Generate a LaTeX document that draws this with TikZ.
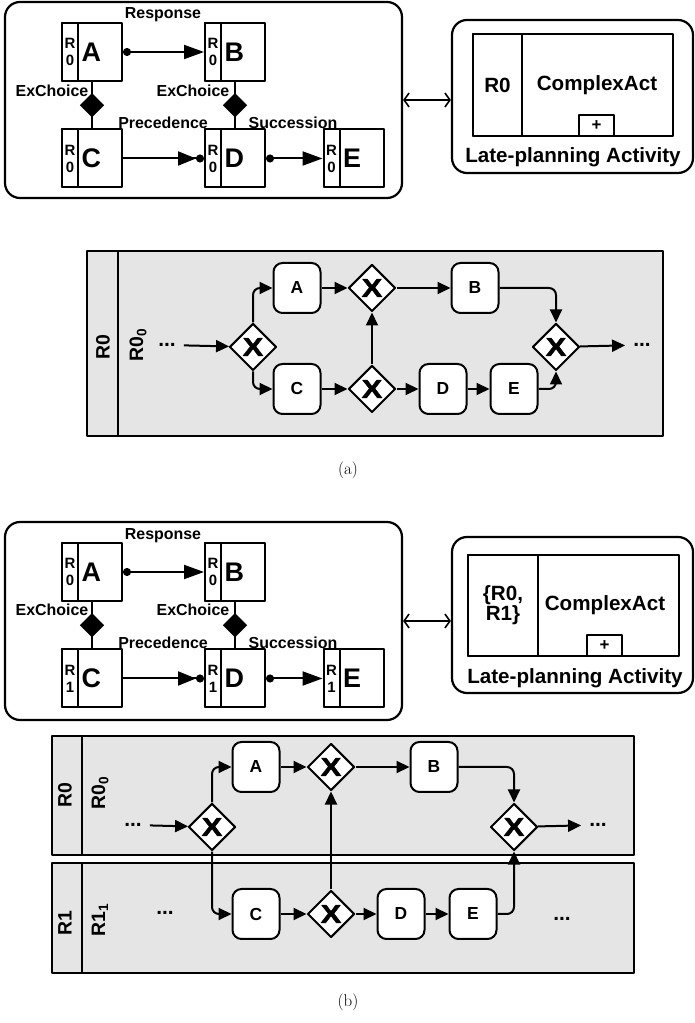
\documentclass[tikz,border=0pt]{standalone}
\usepackage{fontspec}
\usepackage{graphicx}
\newfontfamily\diafont{Liberation Sans}
\newfontfamily\gatefont{Liberation Sans}[BoldFeatures={FakeBold=1.5}]
\usetikzlibrary{arrows.meta,shapes.geometric}

\begin{document}
\begin{tikzpicture}[>=latex,line join=bevel,
  conact/.style={draw,line width=2bp,minimum width=60bp,minimum height=58bp,inner sep=0pt},
  conrole/.style={draw,line width=2bp,minimum width=16bp,minimum height=58bp,inner sep=0pt,align=center,
    font=\diafont\bfseries\fontsize{15}{17}\selectfont},
  conletter/.style={anchor=west,inner sep=2.5bp,font=\diafont\bfseries\fontsize{27}{27}\selectfont},
  conlabel/.style={inner sep=0pt,font=\diafont\bfseries\fontsize{16}{16}\selectfont},
  conline/.style={line width=2bp},
  exchoice/.style={diamond,fill=black,minimum size=25bp,inner sep=0pt},
  response/.style={conline,{Circle[length=8bp]}-{Triangle[length=20bp,width=14bp]}},
  precedence/.style={conline,-{Triangle[length=18bp,width=14bp]Circle[length=8bp]}},
  succession/.style={response},
  group/.style={draw,line width=2.2bp,rounded corners=15bp,inner sep=0pt},
  lpbox/.style={draw,line width=2bp,inner sep=0pt,align=center,
    font=\diafont\bfseries\fontsize{20.7}{18.5}\selectfont},
  lptext/.style={inner sep=0pt,font=\diafont\bfseries\fontsize{20.7}{20.7}\selectfont},
  plusbox/.style={draw,line width=2bp,minimum width=35bp,minimum height=21bp,inner sep=0pt,
    font=\diafont\bfseries\fontsize{17}{17}\selectfont},
  link/.style={line width=1.6bp,{Straight Barb[length=5bp,width=14bp]}-{Straight Barb[length=5bp,width=14bp]}},
  lane/.style={draw,fill=black!10,line width=2bp},
  lanetitle/.style={rotate=90,inner sep=0pt,font=\diafont\bfseries\fontsize{19.5}{19.5}\selectfont},
  task/.style={draw,fill=white,line width=2bp,rounded corners=9bp,minimum width=47bp,minimum height=50bp,
    inner sep=0pt,font=\diafont\bfseries\fontsize{17.5}{17.5}\selectfont},
  xgate/.style={diamond,draw,fill=white,line width=2bp,minimum size=47bp,inner sep=0pt,
    font=\gatefont\bfseries\fontsize{26}{26}\selectfont},
  flow/.style={line width=2bp,rounded corners=7bp,-{Triangle[length=13bp,width=12bp]}},
  dots/.style={inner sep=2bp,font=\diafont\bfseries\fontsize{21}{21}\selectfont},
  caption/.style={font=\fontsize{17}{20}\selectfont},
]
\useasboundingbox (0bp,0bp) rectangle (695bp,1023bp);
%% (a) constraint model
\node (grp_a) at (203.5bp,923bp) [group,minimum width=397bp,minimum height=196bp] {};
\node (act_A_a) at (92bp,971bp) [conact] {};
\node (act_B_a) at (235bp,971bp) [conact] {};
\node (act_C_a) at (92bp,864.5bp) [conact] {};
\node (act_D_a) at (235bp,864.5bp) [conact] {};
\node (act_E_a) at (353.5bp,864.5bp) [conact] {};
\node (role_A_a) at (act_A_a.north west) [conrole,anchor=north west] {R\\0};
\node (role_B_a) at (act_B_a.north west) [conrole,anchor=north west] {R\\0};
\node (role_C_a) at (act_C_a.north west) [conrole,anchor=north west] {R\\0};
\node (role_D_a) at (act_D_a.north west) [conrole,anchor=north west] {R\\0};
\node (role_E_a) at (act_E_a.north west) [conrole,anchor=north west] {R\\0};
\node at (role_A_a.east) [conletter] {A};
\node at (role_B_a.east) [conletter] {B};
\node at (role_C_a.east) [conletter] {C};
\node at (role_D_a.east) [conletter] {D};
\node at (role_E_a.east) [conletter] {E};
\draw [response] (act_A_a) -- (act_B_a);
\draw [precedence] (act_C_a) -- (act_D_a);
\draw [succession] (act_D_a) -- (act_E_a);
\draw [conline] (act_A_a) -- node [exchoice] {} (act_C_a);
\draw [conline] (act_B_a) -- node [exchoice] {} (act_D_a);
\node at (163bp,1008bp) [conlabel] {Response};
\node at (52bp,932bp) [conlabel] {ExChoice};
\node at (193bp,932bp) [conlabel] {ExChoice};
\node at (163bp,900bp) [conlabel] {Precedence};
\node at (293bp,900bp) [conlabel] {Succession};
%% (a) late-planning activity
\node (lp_a) at (572.5bp,926.5bp) [group,minimum width=241bp,minimum height=153bp] {};
\node (cplx_a) at (573bp,938bp) [lpbox,minimum width=200bp,minimum height=102bp] {};
\node (cplx_role_a) at (cplx_a.north west) [lpbox,anchor=north west,minimum width=49bp,minimum height=102bp] {R0};
\node at (597bp,938bp) [lptext] {ComplexAct};
\node (plus_a) at (596.5bp,897.5bp) [plusbox] {+};
\node at (573bp,866bp) [lptext] {Late-planning Activity};
\draw [link] (grp_a.east) -- (grp_a.east -| lp_a.west);
%% (a) process
\draw [lane] (87bp,587bp) rectangle (663bp,772bp);
\draw [conline] (118bp,587bp) -- (118bp,772bp);
\node at (103bp,676bp) [lanetitle] {R0};
\node at (138bp,678bp) [lanetitle] {R0\textsubscript{0}};
\node (dotin_a) at (167bp,678bp) [dots] {...};
\node (gs_a) at (253bp,676bp) [xgate] {\scalebox{1.2}[1]{X}};
\node (ta_a) at (297bp,735bp) [task] {A};
\node (ga_a) at (372bp,735bp) [xgate] {\scalebox{1.2}[1]{X}};
\node (tb_a) at (475bp,735bp) [task] {B};
\node (tc_a) at (297bp,634bp) [task] {C};
\node (gc_a) at (372bp,634bp) [xgate] {\scalebox{1.2}[1]{X}};
\node (td_a) at (443bp,634bp) [task] {D};
\node (te_a) at (514bp,634bp) [task] {E};
\node (gj_a) at (556bp,676bp) [xgate] {\scalebox{1.2}[1]{X}};
\node (dotout_a) at (642bp,678bp) [dots] {...};
\draw [flow,shorten <=6bp] (dotin_a) -- (gs_a);
\draw [flow] (gs_a) |- (ta_a);
\draw [flow] (gs_a) |- (tc_a);
\draw [flow] (ta_a) -- (ga_a);
\draw [flow] (ga_a) -- (tb_a);
\draw [flow] (tc_a) -- (gc_a);
\draw [flow] (gc_a) -- (ga_a);
\draw [flow] (gc_a) -- (td_a);
\draw [flow] (td_a) -- (te_a);
\draw [flow] (tb_a) -| (gj_a);
\draw [flow] (te_a) -| (gj_a);
\draw [flow,shorten >=6bp] (gj_a) -- (dotout_a);
\node at (348bp,553bp) [caption] {(a)};
%% (b) constraint model
\node (grp_b) at (203.5bp,402bp) [group,minimum width=397bp,minimum height=198bp] {};
\node (act_A_b) at (92bp,451bp) [conact] {};
\node (act_B_b) at (235bp,451bp) [conact] {};
\node (act_C_b) at (92bp,344.5bp) [conact] {};
\node (act_D_b) at (235bp,344.5bp) [conact] {};
\node (act_E_b) at (353.5bp,344.5bp) [conact] {};
\node (role_A_b) at (act_A_b.north west) [conrole,anchor=north west] {R\\0};
\node (role_B_b) at (act_B_b.north west) [conrole,anchor=north west] {R\\0};
\node (role_C_b) at (act_C_b.north west) [conrole,anchor=north west] {R\\1};
\node (role_D_b) at (act_D_b.north west) [conrole,anchor=north west] {R\\1};
\node (role_E_b) at (act_E_b.north west) [conrole,anchor=north west] {R\\1};
\node at (role_A_b.east) [conletter] {A};
\node at (role_B_b.east) [conletter] {B};
\node at (role_C_b.east) [conletter] {C};
\node at (role_D_b.east) [conletter] {D};
\node at (role_E_b.east) [conletter] {E};
\draw [response] (act_A_b) -- (act_B_b);
\draw [precedence] (act_C_b) -- (act_D_b);
\draw [succession] (act_D_b) -- (act_E_b);
\draw [conline] (act_A_b) -- node [exchoice] {} (act_C_b);
\draw [conline] (act_B_b) -- node [exchoice] {} (act_D_b);
\node at (163bp,487bp) [conlabel] {Response};
\node at (52bp,413bp) [conlabel] {ExChoice};
\node at (193bp,413bp) [conlabel] {ExChoice};
\node at (163bp,380bp) [conlabel] {Precedence};
\node at (293bp,380bp) [conlabel] {Succession};
%% (b) late-planning activity
\node (lp_b) at (572.5bp,408bp) [group,minimum width=241bp,minimum height=156bp] {};
\node (cplx_b) at (573.5bp,417.5bp) [lpbox,minimum width=211bp,minimum height=101bp] {};
\node (cplx_role_b) at (cplx_b.north west) [lpbox,anchor=north west,minimum width=70bp,minimum height=101bp] {\{R0,\\R1\}};
\node at (605bp,418bp) [lptext] {ComplexAct};
\node (plus_b) at (604.5bp,377bp) [plusbox] {+};
\node at (575bp,345bp) [lptext] {Late-planning Activity};
\draw [link] (grp_b.east) -- (grp_b.east -| lp_b.west);
%% (b) process, two lanes
\draw [lane] (52bp,168bp) rectangle (634bp,287bp);
\draw [lane] (52bp,50bp) rectangle (634bp,160bp);
\draw [conline] (82bp,168bp) -- (82bp,287bp);
\draw [conline] (82bp,50bp) -- (82bp,160bp);
\node at (65bp,228bp) [lanetitle] {R0};
\node at (100bp,230bp) [lanetitle] {R0\textsubscript{0}};
\node at (65bp,100bp) [lanetitle] {R1};
\node at (100bp,103bp) [lanetitle] {R1\textsubscript{1}};
\node (dotin_b) at (133bp,198bp) [dots] {...};
\node (gs_b) at (212bp,196bp) [xgate] {\scalebox{1.2}[1]{X}};
\node (ta_b) at (256bp,256bp) [task] {A};
\node (ga_b) at (331bp,256bp) [xgate] {\scalebox{1.2}[1]{X}};
\node (tb_b) at (434bp,256bp) [task] {B};
\node (gj_b) at (514bp,196bp) [xgate] {\scalebox{1.2}[1]{X}};
\node (dotout_b) at (598bp,198bp) [dots] {...};
\node (tc_b) at (256bp,109bp) [task] {C};
\node (gc_b) at (331bp,109bp) [xgate] {\scalebox{1.2}[1]{X}};
\node (td_b) at (401bp,109bp) [task] {D};
\node (te_b) at (473bp,109bp) [task] {E};
\node (dotl_b) at (165bp,110bp) [dots] {...};
\node (dotr_b) at (562bp,104bp) [dots] {...};
\draw [flow,shorten <=6bp] (dotin_b) -- (gs_b);
\draw [flow] (gs_b) |- (ta_b);
\draw [flow] (gs_b) |- (tc_b);
\draw [flow] (ta_b) -- (ga_b);
\draw [flow] (ga_b) -- (tb_b);
\draw [flow] (tc_b) -- (gc_b);
\draw [flow] (gc_b) -- (ga_b);
\draw [flow] (gc_b) -- (td_b);
\draw [flow] (td_b) -- (te_b);
\draw [flow] (tb_b) -| (gj_b);
\draw [flow] (te_b) -| (gj_b);
\draw [flow,shorten >=6bp] (gj_b) -- (dotout_b);
\node at (348bp,21bp) [caption] {(b)};
%
\end{tikzpicture}
\end{document}
